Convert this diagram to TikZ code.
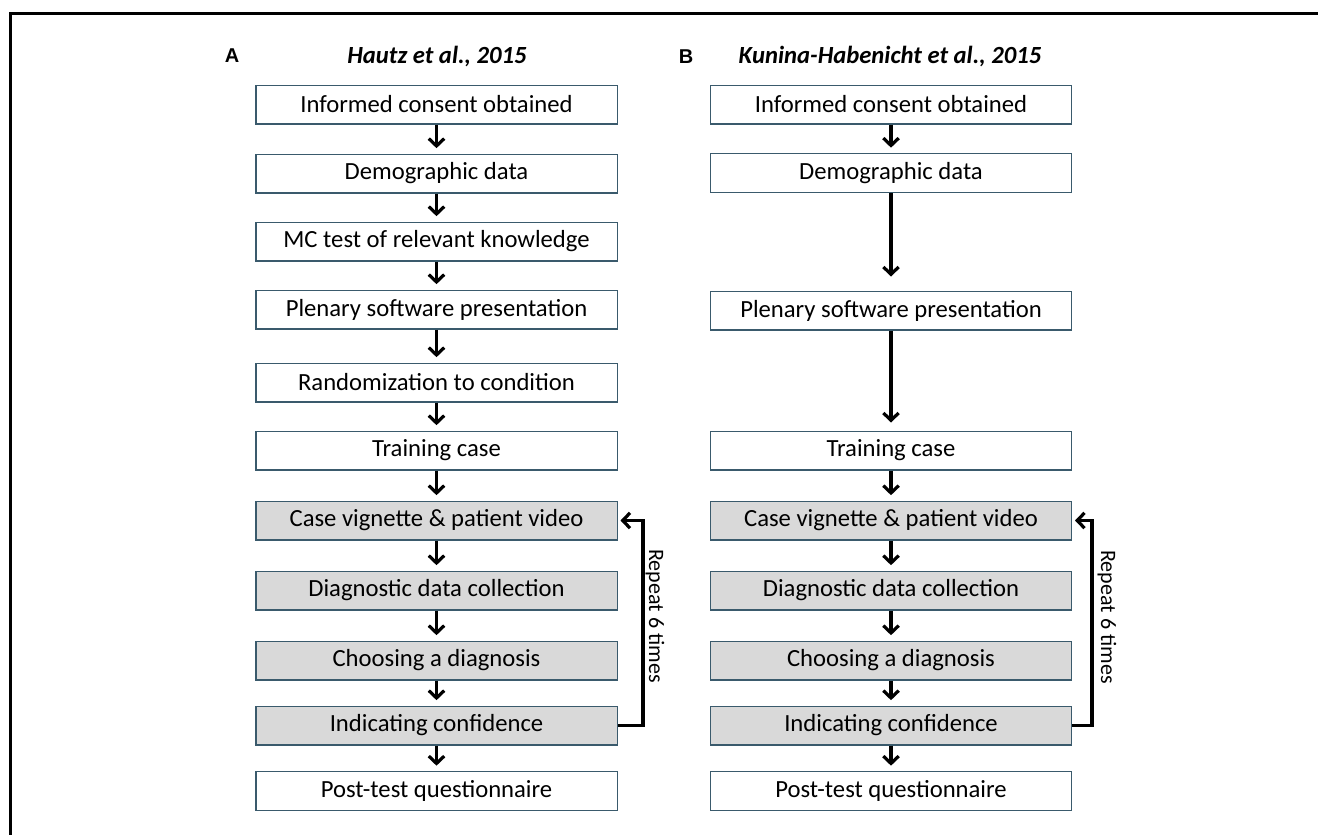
\documentclass[tikz,border=0pt]{standalone}
\usepackage{fontspec}
\setmainfont{Carlito}
\newfontfamily\panelfont{Liberation Sans}[Scale=1.0]
\usetikzlibrary{arrows.meta}
\definecolor{boxedge}{RGB}{58,90,108}
\definecolor{boxgray}{RGB}{217,217,217}
\tikzset{
  stepbox/.style={draw=boxedge, line width=1pt, fill=white, minimum width=271pt, minimum height=29pt, inner sep=0pt, font=\fontsize{18.5}{20}\selectfont, text=black},
  loopbox/.style={stepbox, fill=boxgray},
  arr/.style={line width=2.4pt, -{Straight Barb[length=5.5pt,width=11.5pt]}, shorten >=4pt},
  titletext/.style={font=\fontsize{18.5}{20}\selectfont\bfseries\itshape},
  paneltext/.style={font=\fontsize{15}{17}\selectfont\panelfont\bfseries},
  rep/.style={font=\fontsize{16.5}{18}\selectfont, rotate=-90}
}
\begin{document}
\begin{tikzpicture}[x=0.75pt,y=-0.75pt]
\useasboundingbox (0,0) rectangle (1318,835);
\draw[line width=1.6pt] (10.5,835) -- (10.5,13.5) -- (1318,13.5);

% Panel A
\node[paneltext] (pA) at (232,56) {A};
\node[titletext] (tA) at (437,57) {Hautz et al., 2015};
\node[stepbox] (a1) at (436.5,104.5) {Informed consent obtained};
\node[stepbox] (a2) at (436.5,173.5) {Demographic data};
\node[stepbox] (a3) at (436.5,241.5) {MC test of relevant knowledge};
\node[stepbox] (a4) at (436.5,309.5) {Plenary software presentation};
\node[stepbox] (a5) at (436.5,382.5) {Randomization to condition};
\node[stepbox] (a6) at (436.5,450.5) {Training case};
\node[loopbox] (a7) at (436.5,520.5) {Case vignette \& patient video};
\node[loopbox] (a8) at (436.5,590.5) {Diagnostic data collection};
\node[loopbox] (a9) at (436.5,660.5) {Choosing a diagnosis};
\node[loopbox] (a10) at (436.5,725.5) {Indicating confidence};
\node[stepbox] (a11) at (436.5,791) {Post-test questionnaire};
\foreach \i/\j in {1/2,2/3,3/4,4/5,5/6,6/7,7/8,8/9,9/10,10/11}
  \draw[arr] (a\i) -- (a\j);
\coordinate (aloop) at (643,725.5);
\draw[arr, shorten >=2pt] (a10.east) -- (aloop) |- (a7.east);
\node[rep] (ra) at (655,616) {Repeat 6 times};

% Panel B
\node[paneltext] (pB) at (686,57) {B};
\node[titletext] (tB) at (890,57) {Kunina-Habenicht et al., 2015};
\node[stepbox] (b1) at (891,104.5) {Informed consent obtained};
\node[stepbox] (b2) at (891,173) {Demographic data};
\node[stepbox] (b4) at (891,310.5) {Plenary software presentation};
\node[stepbox] (b6) at (891,450.5) {Training case};
\node[loopbox] (b7) at (891,520.5) {Case vignette \& patient video};
\node[loopbox] (b8) at (891,590.5) {Diagnostic data collection};
\node[loopbox] (b9) at (891,660.5) {Choosing a diagnosis};
\node[loopbox] (b10) at (891,725.5) {Indicating confidence};
\node[stepbox] (b11) at (891,791) {Post-test questionnaire};
\draw[arr] (b1) -- (b2);
\draw[arr, shorten >=10.5pt] (b2) -- (b4);
\draw[arr, shorten >=6pt] (b4) -- (b6);
\foreach \i/\j in {6/7,7/8,8/9,9/10,10/11}
  \draw[arr] (b\i) -- (b\j);
\coordinate (bloop) at (1092,725.5);
\draw[arr, shorten >=2pt] (b10.east) -- (bloop) |- (b7.east);
\node[rep] (rb) at (1107,617) {Repeat 6 times};
\end{tikzpicture}
\end{document}
